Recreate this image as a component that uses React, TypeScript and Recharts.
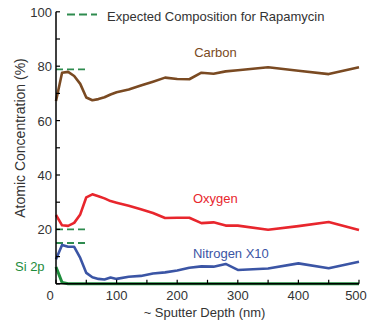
import { LineChart, Line, XAxis, YAxis, ReferenceLine, ReferenceDot } from 'recharts';

// sputter depth (nm) for every measurement
const depth = [0, 10, 20, 30, 40, 50, 60, 70, 80, 90, 100, 120, 140, 160, 180, 200, 220, 240, 260, 280, 300, 350, 400, 450, 500];

// atomic concentration (%)
const carbon = [67.2, 77.6, 77.9, 76.4, 73.5, 68.5, 67.5, 67.9, 68.6, 69.6, 70.4, 71.4, 72.9, 74.3, 75.8, 75.3, 75.2, 77.6, 77.2, 78.1, 78.5, 79.6, 78.3, 77.1, 79.6];
const oxygen = [25.3, 21.5, 21.3, 22.4, 25.5, 31.8, 32.9, 32.2, 31.4, 30.4, 29.8, 28.7, 27.4, 26.0, 24.2, 24.3, 24.3, 22.3, 22.6, 21.4, 21.4, 19.9, 21.2, 22.7, 19.8];
const nitrogenX10 = [9.0, 14.3, 13.6, 13.6, 9.5, 4.0, 2.4, 1.8, 1.6, 2.3, 1.8, 2.6, 2.9, 3.8, 4.2, 4.9, 5.9, 6.4, 6.3, 7.3, 5.1, 5.6, 7.5, 5.7, 8.1];
const silicon = [6.2, 0.5, 0, 0, 0, 0, 0, 0, 0, 0, 0, 0, 0, 0, 0, 0, 0, 0, 0, 0, 0, 0, 0, 0, 0];

// expected composition for rapamycin (C, O, N x10) and the depth span of the dashes
const expected = [78.8, 20, 15];
const expectedSpan = [0, 52];

const xTicks = [0, 50, 100, 150, 200, 250, 300, 350, 400, 450, 500];
const yTicks = [0, 10, 20, 30, 40, 50, 60, 70, 80, 90, 100];

const FONT = '"Liberation Sans", Arial, sans-serif';
const TEXT = '#333333';
const BROWN = '#7a4a22';
const RED = '#e8262d';
const BLUE = '#3b55a5';
const GREEN = '#1e8c3c';
const DASH_GREEN = '#2e8b4f';

const rows = depth.map((d, i) => ({
  depth: d,
  carbon: carbon[i],
  oxygen: oxygen[i],
  nitrogen: nitrogenX10[i],
  silicon: silicon[i],
}));

// ticks point inward, labels only every 100 / every 20
const XTick = (props: any) => {
  const { x, y, payload } = props;
  const v = payload.value;
  // first and last labels nudged so they sit inside the picture
  const shift = v === 0 ? -6 : v === 500 ? -3 : 0;
  return (
    <g>
      <line x1={x} x2={x} y1={y} y2={y - 4} stroke="#000" strokeWidth={1.2} />
      {v % 100 === 0 && (
        <text x={x + shift} y={y + 16} textAnchor="middle" fontSize={13} fontFamily={FONT} fill={TEXT}>
          {v}
        </text>
      )}
    </g>
  );
};

const YTick = (props: any) => {
  const { x, y, payload } = props;
  const v = payload.value;
  return (
    <g>
      <line x1={x} x2={x + 4} y1={y} y2={y} stroke="#000" strokeWidth={1.2} />
      {v !== 0 && v % 20 === 0 && (
        <text x={x - 4} y={y + 5} textAnchor="end" fontSize={13} fontFamily={FONT} fill={TEXT}>
          {v}
        </text>
      )}
    </g>
  );
};

const SeriesLabel = (props: any) => {
  const { viewBox, text, color } = props;
  return (
    <text x={viewBox.x} y={viewBox.y + 4.5} textAnchor="start" fontSize={13} fontFamily={FONT} fill={color}>
      {text}
    </text>
  );
};

export default function App() {
  return (
    <div style={{ position: 'absolute', left: 0, top: 0, width: 368, height: 323 }}>
      <LineChart width={368} height={323} data={rows} margin={{ top: 11.8, right: 9, bottom: 9.2, left: 0 }}>
        <XAxis
          dataKey="depth"
          type="number"
          domain={[0, 500]}
          ticks={xTicks}
          interval={0}
          height={30}
          tickSize={0}
          tickMargin={0}
          tickLine={false}
          axisLine={{ stroke: '#000', strokeWidth: 1.5 }}
          tick={XTick}
        />
        <YAxis
          type="number"
          domain={[0, 100]}
          ticks={yTicks}
          interval={0}
          width={56}
          tickSize={0}
          tickMargin={0}
          tickLine={false}
          axisLine={{ stroke: '#000', strokeWidth: 1.5 }}
          tick={YTick}
        />
        {expected.map((v, i) => (
          <ReferenceLine
            key={i}
            segment={[{ x: expectedSpan[0], y: v }, { x: expectedSpan[1], y: v }]}
            stroke={DASH_GREEN}
            strokeWidth={1.8}
            strokeDasharray="7 4"
          />
        ))}
        <Line dataKey="carbon" type="linear" stroke={BROWN} strokeWidth={2.6} dot={false} isAnimationActive={false} strokeLinejoin="round" />
        <Line dataKey="oxygen" type="linear" stroke={RED} strokeWidth={2.6} dot={false} isAnimationActive={false} strokeLinejoin="round" />
        <Line dataKey="nitrogen" type="linear" stroke={BLUE} strokeWidth={2.6} dot={false} isAnimationActive={false} strokeLinejoin="round" />
        <Line dataKey="silicon" type="linear" stroke={GREEN} strokeWidth={3} dot={false} isAnimationActive={false} strokeLinejoin="round" />
        <ReferenceDot x={228} y={84.9} r={0} stroke="none" fill="none" ifOverflow="visible" label={<SeriesLabel text="Carbon" color={BROWN} />} />
        <ReferenceDot x={226} y={31.5} r={0} stroke="none" fill="none" ifOverflow="visible" label={<SeriesLabel text="Oxygen" color={RED} />} />
        <ReferenceDot x={226} y={11.3} r={0} stroke="none" fill="none" ifOverflow="visible" label={<SeriesLabel text="Nitrogen X10" color={BLUE} />} />
        <ReferenceDot x={-67.7} y={6.2} r={0} stroke="none" fill="none" ifOverflow="visible" label={<SeriesLabel text="Si 2p" color={GREEN} />} />
      </LineChart>
      {/* legend and axis titles */}
      <svg width={368} height={323} style={{ position: 'absolute', left: 0, top: 0, pointerEvents: 'none' }}>
        <line x1={67} x2={97} y1={14.5} y2={14.5} stroke={DASH_GREEN} strokeWidth={1.8} strokeDasharray="8 4" />
        <text x={107} y={21} fontSize={13} fontFamily={FONT} fill={TEXT}>
          Expected Composition for Rapamycin
        </text>
        <text
          transform="translate(20, 138) rotate(-90)"
          textAnchor="middle"
          dominantBaseline="central"
          fontSize={14}
          fontFamily={FONT}
          fill={TEXT}
        >
          Atomic Concentration (%)
        </text>
        <text x={204.5} y={317} textAnchor="middle" fontSize={13} fontFamily={FONT} fill={TEXT}>
          ~ Sputter Depth (nm)
        </text>
      </svg>
    </div>
  );
}
